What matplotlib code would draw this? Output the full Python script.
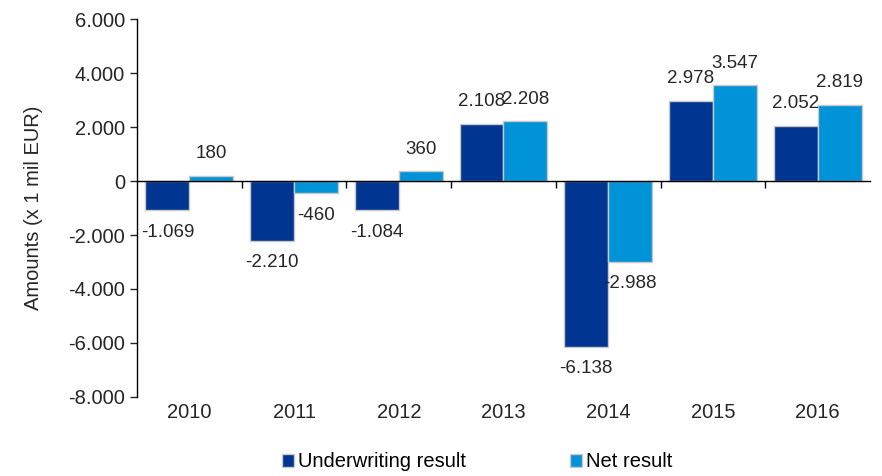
import numpy as np
import matplotlib
matplotlib.use("Agg")
import matplotlib.pyplot as plt
from matplotlib.ticker import FuncFormatter

plt.rcParams["font.family"] = ["Liberation Sans", "DejaVu Sans"]

# Data
years = ["2010", "2011", "2012", "2013", "2014", "2015", "2016"]
underwriting = [-1069, -2210, -1084, 2108, -6138, 2978, 2052]
net_result = [180, -460, 360, 2208, -2988, 3547, 2819]

DARK = "#003591"
LIGHT = "#0093d8"
EDGE = "#c8c8c8"


def fmt_thousands(v):
    s = f"{abs(int(round(v))):,}".replace(",", ".")
    return "-" + s if v < 0 else s


def label_bars(ax, bars, values):
    for b, v in zip(bars, values):
        x = b.get_x() + b.get_width() / 2
        off = 16 if v >= 0 else -16
        ax.annotate(fmt_thousands(v), (x, v), xytext=(0, off), textcoords="offset points",
                    ha="center", va="center", fontsize=13.5, color="#262626")


def main():
    fig = plt.figure(figsize=(8.82, 4.76), dpi=100)
    ax = fig.add_axes([0.1553, 0.166, 0.8311, 0.794])

    x = np.arange(len(years))
    w = 0.42
    b1 = ax.bar(x - w / 2, underwriting, w, color=DARK, edgecolor=EDGE, linewidth=1,
                label="Underwriting result", zorder=2)
    b2 = ax.bar(x + w / 2, net_result, w, color=LIGHT, edgecolor=EDGE, linewidth=1,
                label="Net result", zorder=2)
    label_bars(ax, b1, underwriting)
    label_bars(ax, b2, net_result)

    ax.set_xlim(-0.5, len(years) - 0.5)
    ax.set_ylim(-8000, 6000)
    ax.set_yticks(np.arange(-8000, 6001, 2000))
    ax.yaxis.set_major_formatter(FuncFormatter(lambda v, p: fmt_thousands(v)))
    ax.tick_params(axis="y", labelsize=14.5, length=5, width=1, colors="#262626", direction="out")

    # x axis on the zero line, ticks at category boundaries
    ax.spines["bottom"].set_position(("data", 0))
    ax.spines["top"].set_visible(False)
    ax.spines["right"].set_visible(False)
    ax.spines["left"].set_linewidth(1)
    ax.spines["bottom"].set_linewidth(1)
    ax.set_xticks(np.arange(0.5, len(years) - 0.5, 1))
    ax.set_xticklabels([])
    ax.tick_params(axis="x", length=5, width=1, direction="out")
    for i, yr in enumerate(years):
        ax.text(i, -0.04, yr, transform=ax.get_xaxis_transform(), ha="center", va="center",
                fontsize=14.5, color="#262626")

    ax.set_ylabel("Amounts (x 1 mil EUR)", fontsize=14.5, color="#262626")
    ax.yaxis.set_label_coords(-0.128, 0.5)

    fig.legend(handles=[b1, b2], loc="center", bbox_to_anchor=(0.541, 0.03), ncol=2,
               frameon=False, fontsize=14.5, handlelength=0.6, handleheight=0.6,
               handletextpad=0.2, columnspacing=5.2)

    fig.savefig("out.png", dpi=100)


if __name__ == "__main__":
    main()
